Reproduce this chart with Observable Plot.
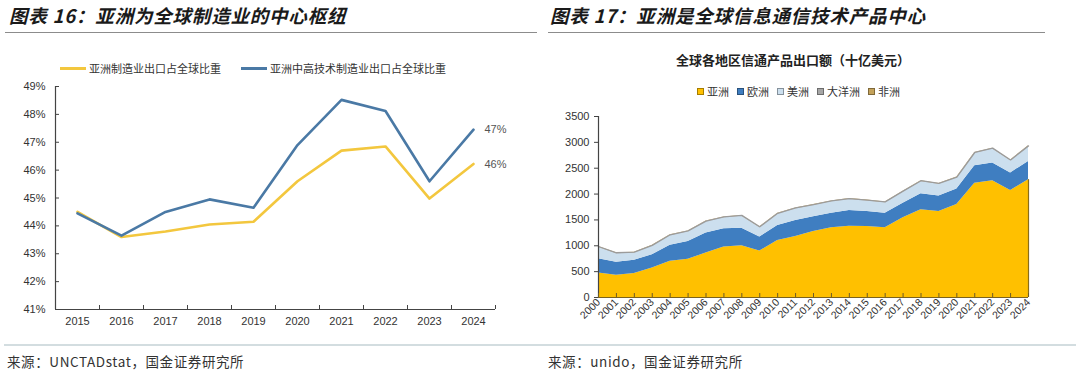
<!DOCTYPE html>
<html><head><meta charset="utf-8">
<script src="https://cdn.jsdelivr.net/npm/d3@7"></script>
<script src="https://cdn.jsdelivr.net/npm/@observablehq/plot@0.6"></script>
<style>
body{margin:0;width:1080px;height:375px;background:#fff;position:relative;overflow:hidden;font-family:"Liberation Sans",Arial,sans-serif;}
.abs{position:absolute;white-space:nowrap;}
.title{font-family:"Noto Sans CJK SC",sans-serif;font-weight:bold;font-style:italic;font-size:18.5px;line-height:20px;color:#1a1a1a;letter-spacing:0.8px;}
.rule{position:absolute;height:1px;background:#8c8c8c;}
.leg{font-family:"Noto Sans CJK SC",sans-serif;font-size:11px;line-height:12px;color:#333;display:flex;align-items:center;}
.lsw{display:inline-block;width:26px;height:3px;margin-right:3px;}
.sq{display:inline-block;width:7px;height:7px;margin-right:3px;box-sizing:border-box;border:1px solid rgba(0,0,0,0.35);}
.src{font-family:"Noto Sans CJK SC",sans-serif;font-size:13.5px;line-height:14px;color:#333;letter-spacing:0.6px;}
</style></head>
<body>
<div class="abs title" style="left:9px;top:5px">图表 16：亚洲为全球制造业的中心枢纽</div>
<div class="rule" style="left:5px;top:32px;width:532px"></div>
<div class="abs leg" style="left:60px;top:62px">
  <span class="lsw" style="background:#F3C73E"></span><span>亚洲制造业出口占全球比重</span>
  <span class="lsw" style="background:#4A79A5;margin-left:20px"></span><span>亚洲中高技术制造业出口占全球比重</span>
</div>
<div id="left" class="abs" style="left:0;top:70px"></div>

<div class="abs title" style="left:550px;top:5px">图表 17：亚洲是全球信息通信技术产品中心</div>
<div class="rule" style="left:548px;top:32px;width:497px"></div>
<div class="abs" style="left:540px;top:53px;width:506px;text-align:center;font-family:'Noto Sans CJK SC',sans-serif;font-weight:bold;font-size:13px;line-height:14px;color:#222">全球各地区信通产品出口额（十亿美元）</div>
<div id="leg17" class="abs leg" style="left:697px;top:85px"></div>
<div id="right" class="abs" style="left:540px;top:100px"></div>

<div class="abs" style="left:4px;top:344px;width:1072px;height:2px;background:#d3dde0"></div>
<div class="abs src" style="left:7px;top:354px">来源：UNCTADstat，国金证券研究所</div>
<div class="abs src" style="left:548px;top:354px">来源：unido，国金证券研究所</div>

<script>
// ---------- Chart 16 data ----------
const years16 = [2015, 2016, 2017, 2018, 2019, 2020, 2021, 2022, 2023, 2024];
const mfgShare = [44.5, 43.6, 43.8, 44.05, 44.15, 45.6, 46.7, 46.85, 44.98, 46.22];
const hiTechShare = [44.45, 43.65, 44.5, 44.95, 44.65, 46.9, 48.52, 48.12, 45.6, 47.45];
const yTicks16 = [41, 42, 43, 44, 45, 46, 47, 48, 49];
const seriesNames16 = ["亚洲制造业出口占全球比重", "亚洲中高技术制造业出口占全球比重"];
const seriesColors16 = ["#F3C73E", "#4A79A5"];

// ---------- Chart 17 data ----------
const years17 = [2000, 2001, 2002, 2003, 2004, 2005, 2006, 2007, 2008, 2009, 2010, 2011, 2012, 2013, 2014, 2015, 2016, 2017, 2018, 2019, 2020, 2021, 2022, 2023, 2024];
const asia = [474, 430, 462, 570, 699, 738, 860, 975, 1002, 898, 1104, 1181, 1274, 1349, 1380, 1374, 1349, 1541, 1695, 1663, 1798, 2208, 2260, 2067, 2279];
const europe = [277, 250, 257, 258, 309, 347, 385, 354, 339, 270, 289, 308, 286, 281, 302, 289, 281, 282, 309, 302, 302, 341, 341, 341, 353];
const americas = [217, 167, 140, 162, 187, 185, 215, 211, 229, 182, 217, 224, 218, 220, 213, 202, 200, 215, 236, 223, 210, 237, 269, 234, 282];
const oceania = [8, 8, 8, 8, 8, 8, 8, 8, 8, 8, 8, 8, 8, 8, 8, 8, 8, 8, 8, 8, 8, 8, 8, 8, 8];
const africa = [10, 10, 10, 10, 10, 10, 10, 10, 10, 10, 10, 10, 10, 10, 10, 10, 10, 10, 10, 10, 10, 10, 10, 10, 10];
const regions = ["亚洲", "欧洲", "美洲", "大洋洲", "非洲"];
const regionColors = ["#FFC000", "#3F7EC1", "#CCDFEE", "#A6A6A6", "#C4A25A"];
const yTicks17 = [0, 500, 1000, 1500, 2000, 2500, 3000, 3500];

// ---------- Chart 16 ----------
const rows16 = years16.flatMap((y, i) => [
  {year: y, v: mfgShare[i], s: seriesNames16[0]},
  {year: y, v: hiTechShare[i], s: seriesNames16[1]}
]);
const bounds16 = [years16[0] - 0.5, ...years16.map(y => y + 0.5)];
const last16 = rows16.filter(d => d.year === years16[years16.length - 1]);
const left = Plot.plot({
  width: 540, height: 269,
  marginLeft: 55, marginRight: 45, marginTop: 16, marginBottom: 30,
  x: {domain: [bounds16[0], bounds16[bounds16.length - 1]]},
  y: {domain: [yTicks16[0], yTicks16[yTicks16.length - 1]]},
  color: {domain: seriesNames16, range: seriesColors16},
  style: {fontFamily: "'Liberation Sans', Arial, sans-serif", fontSize: "11px", color: "#333", background: "transparent"},
  marks: [
    Plot.axisY({ticks: yTicks16, tickSize: 0, tickPadding: 10, tickFormat: d => d + "%", label: null, fill: "#333"}),
    Plot.tickY(yTicks16, {y: d => d, insetRight: 436, stroke: "#444"}),
    Plot.axisX({ticks: years16, tickSize: 0, tickPadding: 8, tickFormat: d => String(d), label: null, fill: "#333"}),
    Plot.tickX(bounds16, {x: d => d, insetTop: 219, stroke: "#444"}),
    Plot.ruleX([bounds16[0]], {stroke: "#444", strokeWidth: 1.2}),
    Plot.ruleY([yTicks16[0]], {stroke: "#444", strokeWidth: 1.2}),
    Plot.line(rows16, {x: "year", y: "v", z: "s", stroke: "s", strokeWidth: 2.6, strokeLinejoin: "round"}),
    Plot.text(last16, {x: "year", y: "v", text: d => Math.round(d.v) + "%", dx: 11, textAnchor: "start", fill: "#555", fontSize: 11})
  ]
});
document.getElementById("left").appendChild(left);

// ---------- Chart 17 ----------
const seriesVals = [asia, europe, americas, oceania, africa];
const rows17 = regions.flatMap((r, k) => years17.map((y, i) => ({year: y, region: r, value: seriesVals[k][i]})));
const totals = years17.map((y, i) => ({year: y, total: seriesVals.reduce((s, a) => s + a[i], 0)}));
const lastYear = years17[years17.length - 1];
const right = Plot.plot({
  width: 540, height: 240,
  marginLeft: 58, marginRight: 52, marginTop: 16, marginBottom: 43,
  x: {domain: [years17[0], lastYear]},
  y: {domain: [yTicks17[0], yTicks17[yTicks17.length - 1]]},
  color: {domain: regions, range: regionColors},
  style: {fontFamily: "'Liberation Sans', Arial, sans-serif", fontSize: "11px", color: "#333", background: "transparent"},
  marks: [
    Plot.areaY(rows17, Plot.stackY({x: "year", y: "value", z: "region", fill: "region", order: regions})),
    Plot.lineY(totals, {x: "year", y: "total", stroke: "#9b9b9b", strokeWidth: 1.3}),
    Plot.ruleX([lastYear], {y1: 0, y2: asia[asia.length - 1], stroke: "#8a6d1a", strokeWidth: 1.2}),
    Plot.axisY({ticks: yTicks17, tickSize: 4, tickPadding: 5, label: null, tickFormat: d => String(d), fill: "#333", stroke: "#444"}),
    Plot.ruleX([years17[0]], {stroke: "#444", strokeWidth: 1.2}),
    Plot.ruleY([0], {stroke: "#7a6320", strokeWidth: 1.2}),
    Plot.tickX(years17, {x: d => d, insetTop: 177, stroke: "#6b5a2a"}),
    Plot.axisX({ticks: years17, tickSize: 0, tickPadding: 3, tickRotate: -45, tickFormat: d => String(d), label: null, fill: "#333", fontSize: 10.5})
  ]
});
document.getElementById("right").appendChild(right);

// legend 17
const leg = document.getElementById("leg17");
regions.forEach((r, i) => {
  const item = document.createElement("span");
  item.style.display = "inline-flex";
  item.style.alignItems = "center";
  item.style.marginRight = "8px";
  item.innerHTML = `<span class="sq" style="background:${regionColors[i]}"></span>${r}`;
  leg.appendChild(item);
});
</script>
</body></html>
